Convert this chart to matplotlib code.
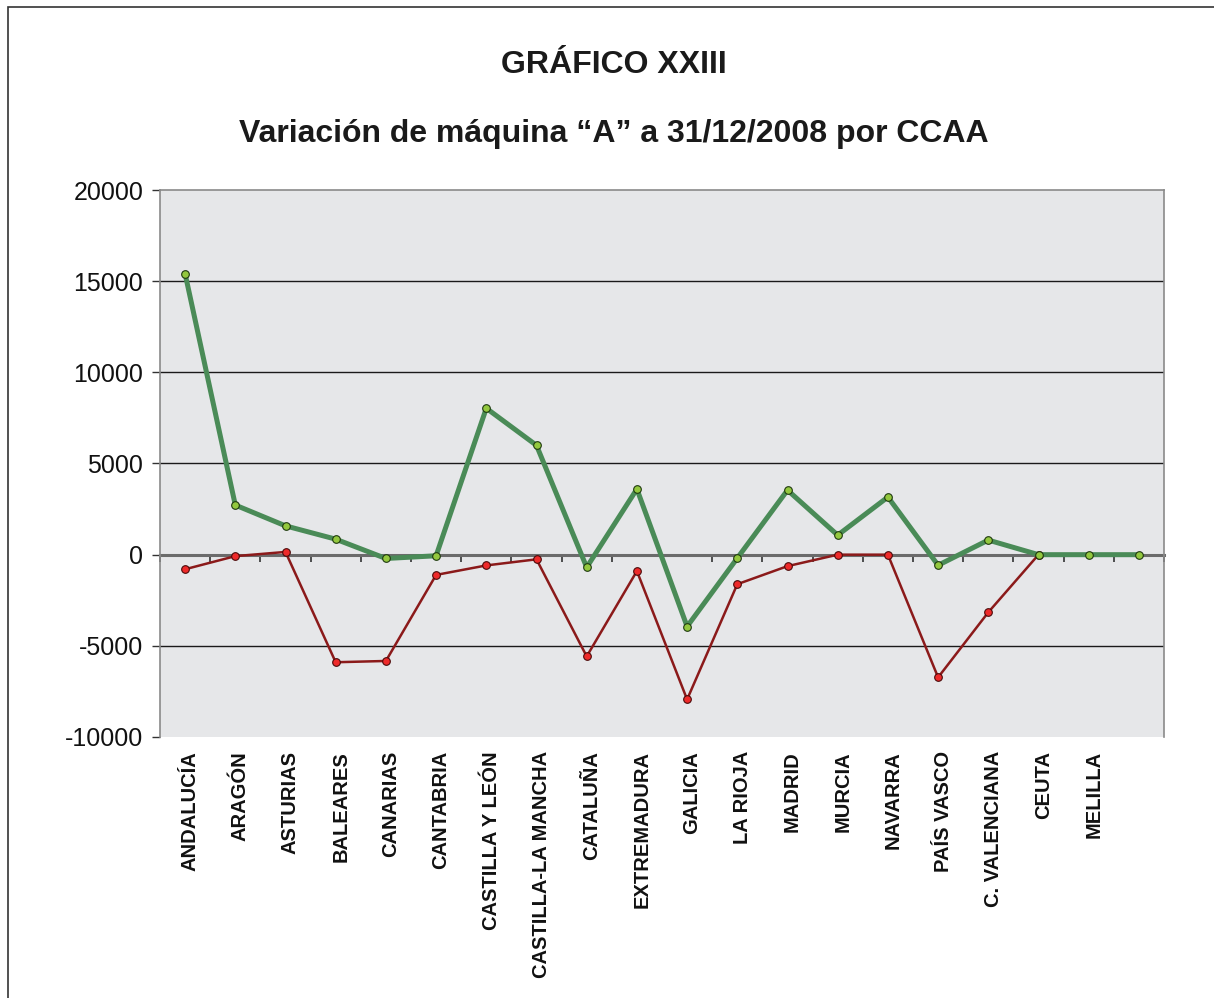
"""
Variación de máquina "A" por CCAA - gráfico de líneas
"""
import matplotlib
matplotlib.use('Agg')
import matplotlib.pyplot as plt
from matplotlib.patches import Rectangle
from matplotlib.transforms import ScaledTranslation
import numpy as np

plt.rcParams['font.family'] = ['Liberation Sans', 'DejaVu Sans']

# Datos
comunidades = ['ANDALUCÍA', 'ARAGÓN', 'ASTURIAS', 'BALEARES', 'CANARIAS',
               'CANTABRIA', 'CASTILLA Y LEÓN', 'CASTILLA-LA MANCHA', 'CATALUÑA',
               'EXTREMADURA', 'GALICIA', 'LA RIOJA', 'MADRID', 'MURCIA',
               'NAVARRA', 'PAÍS VASCO', 'C. VALENCIANA', 'CEUTA', 'MELILLA', '']

serie_verde = [15410, 2720, 1580, 850, -210, -60, 8030, 5995, -695,
               3600, -3940, -190, 3540, 1070, 3160, -580, 800, 0, 0, 0]

serie_roja = [-800, -80, 150, -5900, -5830, -1110, -590, -255, -5580,
              -900, -7940, -1620, -630, 0, 0, -6730, -3160, 0]

y_ticks = [-10000, -5000, 0, 5000, 10000, 15000, 20000]

titulo = 'GRÁFICO XXIII'
subtitulo = 'Variación de máquina “A” a 31/12/2008 por CCAA'

fig = plt.figure(figsize=(12.14, 9.98), dpi=100)
ax = fig.add_axes([160 / 1214, 1 - 737 / 998, 1004 / 1214, 547 / 998])

# Marco exterior
fig.patches.append(Rectangle((8 / 1214, -0.1), 1.2, 1 - 7 / 998 + 0.1,
                             transform=fig.transFigure, fill=False,
                             edgecolor='#333333', linewidth=1.2))

x = np.arange(len(comunidades))

ax.set_facecolor('#E6E7E9')

# Rejilla
for v in y_ticks:
    if v not in (0, 20000, -10000):
        ax.axhline(v, color='#1a1a1a', linewidth=1.0, zorder=1)

ax.plot(np.arange(len(serie_roja)), serie_roja, color='#8B1A1A', linewidth=1.8,
        marker='o', markersize=5.5, markerfacecolor='#EE2A2A',
        markeredgecolor='#4a0a0a', markeredgewidth=0.8, zorder=3)
ax.plot(x, serie_verde, color='#4A8B57', linewidth=3.6,
        marker='o', markersize=5.5, markerfacecolor='#93C83E',
        markeredgecolor='#1f3a10', markeredgewidth=0.8, zorder=4)

ax.set_xlim(-0.5, len(comunidades) - 0.5)
ax.set_ylim(-10000, 20000)

# Eje horizontal en el cero con marcas entre categorías
ax.spines['bottom'].set_position(('data', 0))
ax.spines['bottom'].set_color('#6b6b6b')
ax.spines['bottom'].set_linewidth(2.2)
ax.spines['bottom'].set_zorder(2)
ax.set_xticks(np.arange(len(comunidades) + 1) - 0.5)
ax.tick_params(axis='x', direction='out', length=5, width=1.2,
               color='#333333', labelbottom=False)

for lado in ['left', 'right', 'top']:
    ax.spines[lado].set_color('#8a8a8a')
    ax.spines[lado].set_linewidth(1.2)

ax.set_yticks(y_ticks)
ax.set_yticklabels([str(v) for v in y_ticks])
ax.tick_params(axis='y', direction='out', length=6, width=1.0,
               color='#333333', labelsize=18, pad=6, labelcolor='#111111')

# Etiquetas de comunidades debajo del gráfico
sec = ax.secondary_xaxis(0)
sec.set_xticks(x)
sec.set_xticklabels(comunidades, rotation=90, fontsize=14.5,
                    fontweight='bold', va='top', ha='center', color='#111111')
sec.tick_params(length=0, pad=10)
sec.spines['bottom'].set_visible(False)
desplazamiento = ScaledTranslation(5 / 100, 0, fig.dpi_scale_trans)
for etiqueta in sec.get_xticklabels():
    etiqueta.set_transform(etiqueta.get_transform() + desplazamiento)

fig.text(0.5055, 1 - 65 / 998, titulo, ha='center', va='center',
         fontsize=23, fontweight='bold', color='#1a1a1a')
fig.text(0.5055, 1 - 134 / 998, subtitulo, ha='center', va='center',
         fontsize=23, fontweight='bold', color='#1a1a1a')

fig.savefig('out.png', dpi=100)
